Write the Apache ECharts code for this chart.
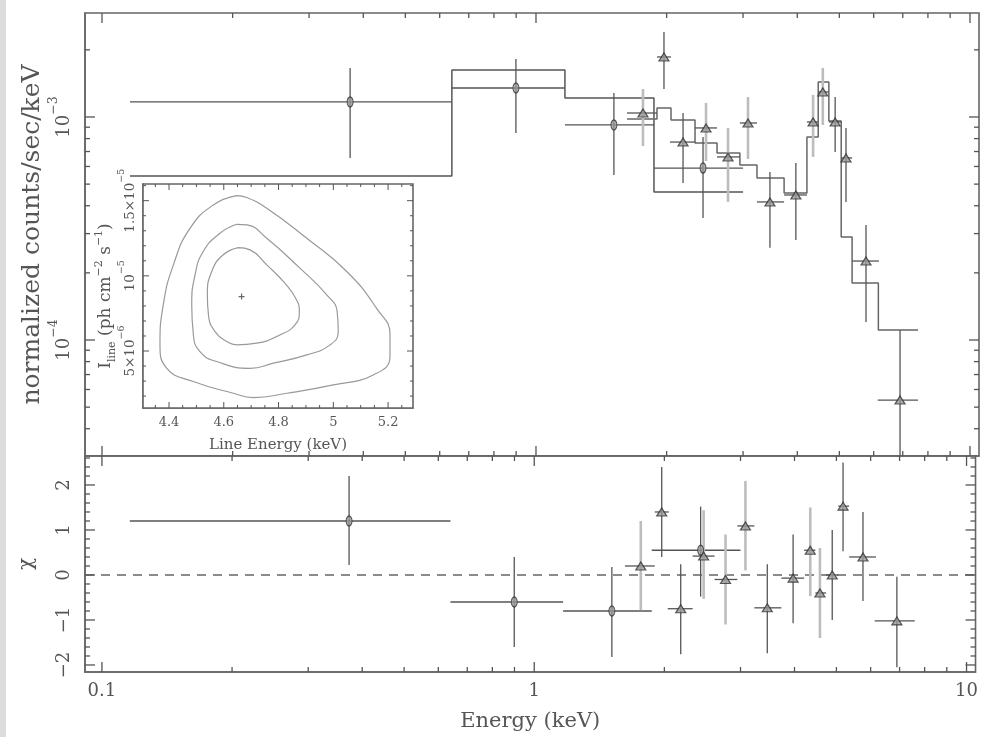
<!DOCTYPE html>
<html><head><meta charset="utf-8">
<script src="https://cdn.jsdelivr.net/npm/echarts@6/dist/echarts.min.js"></script>
<style>html,body{margin:0;padding:0;background:#fff}#c{width:981px;height:737px}</style>
</head><body><div id="c"></div>
<script>
// ---------------- DATA ----------------
// data group 1 (circles)
const circE      = [0.373, 0.899, 1.512, 2.426];
const circELo    = [0.116, 0.640, 1.166, 1.870];
const circEHi    = [0.640, 1.166, 1.870, 3.000];
const circFlux   = [1.168e-3, 1.349e-3, 9.21e-4, 5.90e-4];
const circFluxLo = [6.55e-4, 8.48e-4, 5.49e-4, 3.52e-4];
const circFluxHi = [1.66e-3, 1.82e-3, 1.281e-3, 8.13e-4];
const circChi    = [1.20, -0.60, -0.80, 0.55];
const circChiLo  = [0.22, -1.60, -1.82, -0.48];
const circChiHi  = [2.20, 0.40, 0.18, 1.52];
// model for group 1 (step bins)
const model1Edges = [0.116, 0.640, 1.166, 1.870, 3.000];
const model1Flux  = [5.44e-4, 1.625e-3, 1.217e-3, 4.61e-4];

// data groups 2/3 (triangles)
const triGroup   = [3, 2, 2, 3, 3, 3, 2, 2, 3, 3, 2, 2, 2, 2];
const triE       = [1.764, 1.972, 2.182, 2.465, 2.77, 3.08, 3.46, 3.97, 4.35, 4.58, 4.89, 5.18, 5.76, 6.90];
const triELo     = [1.621, 1.900, 2.036, 2.325, 2.613, 2.95, 3.23, 3.73, 4.21, 4.47, 4.73, 5.05, 5.35, 6.13];
const triEHi     = [1.900, 2.047, 2.325, 2.613, 2.95, 3.23, 3.73, 4.21, 4.47, 4.73, 5.05, 5.35, 6.17, 7.59];
const triFlux    = [1.042e-3, 1.858e-3, 7.72e-4, 8.93e-4, 6.62e-4, 9.40e-4, 4.16e-4, 4.47e-4, 9.50e-4, 1.295e-3, 9.50e-4, 6.55e-4, 2.26e-4, 5.38e-5];
const triFluxLo  = [7.41e-4, 1.335e-3, 5.06e-4, 6.35e-4, 4.16e-4, 6.48e-4, 2.59e-4, 2.81e-4, 6.62e-4, 9.21e-4, 6.97e-4, 4.16e-4, 1.205e-4, 1.0e-5];
const triFluxHi  = [1.335e-3, 2.405e-3, 1.042e-3, 1.156e-3, 8.93e-4, 1.229e-3, 5.67e-4, 6.22e-4, 1.255e-3, 1.66e-3, 1.229e-3, 8.93e-4, 3.28e-4, 1.109e-4];
const triChi     = [0.20, 1.40, -0.75, 0.42, -0.10, 1.09, -0.73, -0.07, 0.55, -0.40, 0.00, 1.53, 0.40, -1.02];
const triChiLo   = [-0.78, 0.40, -1.76, -0.53, -1.10, 0.10, -1.74, -1.07, -0.47, -1.40, -1.00, 0.53, -0.58, -2.05];
const triChiHi   = [1.20, 2.40, 0.24, 1.44, 0.90, 2.09, 0.24, 0.90, 1.50, 0.60, 1.00, 2.50, 1.40, -0.04];
// model for triangles (step bins)
const model2Edges = [1.621, 1.900, 2.047, 2.325, 2.613, 2.95, 3.23, 3.73, 4.21, 4.47, 4.73, 5.05, 5.35, 6.15, 7.59];
const model2Flux  = [9.80e-4, 1.098e-3, 9.69e-4, 7.64e-4, 6.90e-4, 6.09e-4, 5.33e-4, 4.56e-4, 8.13e-4, 1.435e-3, 9.60e-4, 2.90e-4, 1.80e-4, 1.109e-4];

// inset: confidence contours [line energy keV, line flux]
const contourInner = [[4.653,11.88e-6],[4.598,11.40e-6],[4.556,10.29e-6],[4.540,8.74e-6],[4.544,7.41e-6],[4.568,6.29e-6],[4.611,5.63e-6],[4.647,5.41e-6],[4.720,5.52e-6],[4.805,6.07e-6],[4.860,6.74e-6],[4.876,7.62e-6],[4.866,8.40e-6],[4.823,9.51e-6],[4.757,10.73e-6],[4.696,11.73e-6]];
const contourMiddle = [[4.647,13.43e-6],[4.586,12.83e-6],[4.525,11.62e-6],[4.495,10.07e-6],[4.483,8.07e-6],[4.489,6.07e-6],[4.513,4.96e-6],[4.574,4.30e-6],[4.696,3.85e-6],[4.781,4.19e-6],[4.903,4.74e-6],[4.988,5.41e-6],[5.018,6.29e-6],[5.014,7.62e-6],[4.976,8.74e-6],[4.878,10.51e-6],[4.757,12.50e-6],[4.684,13.39e-6]];
const contourOuter = [[4.647,15.34e-6],[4.562,14.72e-6],[4.477,13.17e-6],[4.416,10.73e-6],[4.379,8.07e-6],[4.367,5.41e-6],[4.392,3.85e-6],[4.489,2.97e-6],[4.635,2.19e-6],[4.708,1.90e-6],[4.830,2.19e-6],[5.000,2.75e-6],[5.146,3.41e-6],[5.207,4.63e-6],[5.207,6.07e-6],[5.158,7.84e-6],[5.049,10.29e-6],[4.903,12.50e-6],[4.757,14.50e-6],[4.684,15.21e-6]];
const bestFit = [4.665, 8.62e-6];

// axis ranges and tick labels
const XMIN = 0.09138, XMAX = 10.49;
const YMIN = 3.019e-5, YMAX = 2.926e-3;
const CHIMIN = -2.156, CHIMAX = 2.644;
const IXMIN = 4.305, IXMAX = 5.291;
const IYMIN = 1.21e-6, IYMAX = 1.611e-5;
const xMajor = [0.1, 1, 10];
const yMajor = [1e-4, 1e-3];
const chiMajor = [-2, -1, 0, 1, 2];
const ixMajor = [4.4, 4.6, 4.8, 5.0, 5.2];
const iyMajor = [5e-6, 1e-5, 1.5e-5];

// ---------------- STYLE ----------------
const FONT = 'DejaVu Serif';
const INK = '#555';
const TXT = '#555';
const GRAYBAR = '#bdbdbd';

// ---------------- HELPERS ----------------
function inRange(v, a, b) { return v >= a - 1e-12 && v <= b + 1e-12; }
function logMinor(lo, hi) { const out = []; for (let d = -6; d <= 2; d++) { for (let k = 2; k <= 9; k++) { const v = k * Math.pow(10, d); if (inRange(v, lo, hi)) out.push(v); } } return out; }
function linMinor(lo, hi, step, majors) { const out = []; const n0 = Math.ceil(lo / step - 1e-9), n1 = Math.floor(hi / step + 1e-9); for (let n = n0; n <= n1; n++) { const v = n * step; if (!majors.some(m => Math.abs(m - v) < step * 1e-3)) out.push(v); } return out; }

function tickSeries(gi, xMaj, xMin, yMaj, yMin, refX, refY, Lmaj, Lmin, width) {
  const data = [];
  xMaj.forEach(v => data.push([v, refY, 0, 1]));
  xMin.forEach(v => data.push([v, refY, 0, 0]));
  yMaj.forEach(v => data.push([refX, v, 1, 1]));
  yMin.forEach(v => data.push([refX, v, 1, 0]));
  return {
    type: 'custom', xAxisIndex: gi, yAxisIndex: gi, silent: true, z: 6, data,
    renderItem(params, api) {
      const cs = params.coordSys;
      const p = api.coord([api.value(0), api.value(1)]);
      const L = api.value(3) ? Lmaj : Lmin;
      const st = { stroke: INK, lineWidth: width };
      if (api.value(2) === 0) {
        const x = p[0], yb = cs.y + cs.height, yt = cs.y;
        return { type: 'group', children: [
          { type: 'line', shape: { x1: x, y1: yb, x2: x, y2: yb - L }, style: st },
          { type: 'line', shape: { x1: x, y1: yt, x2: x, y2: yt + L }, style: st }] };
      } else {
        const y = p[1], xl = cs.x, xr = cs.x + cs.width;
        return { type: 'group', children: [
          { type: 'line', shape: { x1: xl, y1: y, x2: xl + L, y2: y }, style: st },
          { type: 'line', shape: { x1: xr, y1: y, x2: xr - L, y2: y }, style: st }] };
      }
    }
  };
}

function errSeries(gi, items, hColor, hWidth, vColor, vWidth, z) {
  return {
    type: 'custom', xAxisIndex: gi, yAxisIndex: gi, silent: true, clip: true, z: z || 3, data: items,
    renderItem(params, api) {
      const p = api.coord([api.value(0), api.value(1)]);
      const xl = api.coord([api.value(2), api.value(1)])[0];
      const xh = api.coord([api.value(3), api.value(1)])[0];
      const yl = api.coord([api.value(0), api.value(4)])[1];
      const yh = api.coord([api.value(0), api.value(5)])[1];
      return { type: 'group', children: [
        { type: 'line', shape: { x1: p[0], y1: yl, x2: p[0], y2: yh }, style: { stroke: vColor, lineWidth: vWidth } },
        { type: 'line', shape: { x1: xl, y1: p[1], x2: xh, y2: p[1] }, style: { stroke: hColor, lineWidth: hWidth } }] };
    }
  };
}

function stepData(edges, vals) { const out = []; vals.forEach((v, i) => { out.push([edges[i], v]); out.push([edges[i + 1], v]); }); return out; }
function closed(arr) { return arr.concat([arr[0]]); }

// items
const circTop = circE.map((e, i) => [e, circFlux[i], circELo[i], circEHi[i], circFluxLo[i], circFluxHi[i]]);
const circBot = circE.map((e, i) => [e, circChi[i], circELo[i], circEHi[i], circChiLo[i], circChiHi[i]]);
const triTop = triE.map((e, i) => [e, triFlux[i], triELo[i], triEHi[i], triFluxLo[i], triFluxHi[i]]);
const triBot = triE.map((e, i) => [e, triChi[i], triELo[i], triEHi[i], triChiLo[i], triChiHi[i]]);
const pick = (arr, g) => arr.filter((_, i) => triGroup[i] === g);

// formatters
const supMinus = n => (n < 0 ? '\u2212' : '') + Math.abs(n);
function logLabel10(v) { const l = Math.log10(v), e = Math.round(l); if (Math.abs(l - e) > 1e-6) return ''; return '{b|10}{s|' + supMinus(e) + '}'; }
function logLabelDec(v) { const l = Math.log10(v), e = Math.round(l); if (Math.abs(l - e) > 1e-6) return ''; return e >= 0 ? String(Math.pow(10, e)) : Math.pow(10, e).toFixed(-e); }
function intLabel(v) { const r = Math.round(v); if (Math.abs(v - r) > 1e-6) return ''; return r < 0 ? '\u2212' + (-r) : String(r); }
function stepLabel(v) { const r = Math.round(v * 5) / 5; if (Math.abs(v - r) > 1e-6) return ''; return String(+r.toFixed(1)); }
function sciLabel(v) { if (v <= 0) return ''; const e = Math.floor(Math.log10(v) + 1e-9); const m = Math.round(v / Math.pow(10, e) * 100) / 100; const ok = iyMajor.some(t => Math.abs(t - v) < 1e-9); if (!ok) return ''; return (m === 1 ? '' : '{b|' + m + '\u00d7}') + '{b|10}{s|' + supMinus(e) + '}'; }

const richMain = { b: { fontFamily: FONT, fontSize: 18, color: TXT, lineHeight: 26, verticalAlign: 'bottom' }, s: { fontFamily: FONT, fontSize: 12.5, color: TXT, lineHeight: 14, verticalAlign: 'top' } };
const richInset = { b: { fontFamily: FONT, fontSize: 13.5, color: TXT, lineHeight: 20, verticalAlign: 'bottom' }, s: { fontFamily: FONT, fontSize: 9.5, color: TXT, lineHeight: 11, verticalAlign: 'top' } };

const axisLineStyle = { show: true, onZero: false, lineStyle: { color: '#666', width: 1.5 } };
const gridStyle = { show: true, borderColor: '#666', borderWidth: 1.6, backgroundColor: '#fff' };

const chart = echarts.init(document.getElementById('c'), null, { renderer: 'canvas' });
chart.setOption({
  backgroundColor: '#fff',
  animation: false,
  graphic: [{ type: 'rect', left: 0, top: 0, shape: { width: 6, height: 737 }, style: { fill: '#dcdcdc' }, silent: true }],
  grid: [
    Object.assign({ left: 85, top: 13, right: 2, height: 443 }, gridStyle),
    Object.assign({ left: 85, top: 456, right: 2, height: 216 }, gridStyle),
    Object.assign({ left: 143, top: 184, width: 270, height: 224, z: 4 }, gridStyle)
  ],
  xAxis: [
    { gridIndex: 0, type: 'log', logBase: 10, min: XMIN, max: XMAX, axisLine: axisLineStyle, axisTick: { show: false }, axisLabel: { show: false }, splitLine: { show: false } },
    { gridIndex: 1, type: 'log', logBase: 10, min: XMIN, max: XMAX, axisLine: axisLineStyle, axisTick: { show: false }, splitLine: { show: false },
      axisLabel: { formatter: logLabelDec, fontFamily: FONT, fontSize: 18, color: TXT, margin: 10 },
      name: 'Energy (keV)', nameLocation: 'middle', nameGap: 39, nameMoveOverlap: false, nameTextStyle: { fontFamily: FONT, fontSize: 21, color: TXT } },
    { gridIndex: 2, type: 'value', min: IXMIN, max: IXMAX, splitNumber: 5, axisLine: axisLineStyle, axisTick: { show: false }, splitLine: { show: false },
      axisLabel: { formatter: stepLabel, fontFamily: FONT, fontSize: 13, color: TXT, margin: 8 },
      name: 'Line Energy (keV)', nameLocation: 'middle', nameGap: 30, nameMoveOverlap: false, nameTextStyle: { fontFamily: FONT, fontSize: 15, color: TXT } }
  ],
  yAxis: [
    { gridIndex: 0, type: 'log', logBase: 10, min: YMIN, max: YMAX, axisLine: axisLineStyle, axisTick: { show: false }, splitLine: { show: false },
      axisLabel: { formatter: logLabel10, rotate: 90, margin: 12, rich: richMain },
      name: 'normalized counts/sec/keV', nameLocation: 'middle', nameRotate: 90, nameGap: 40, nameMoveOverlap: false, nameTextStyle: { fontFamily: FONT, fontSize: 25, color: TXT } },
    { gridIndex: 1, type: 'value', min: CHIMIN, max: CHIMAX, splitNumber: 5, axisLine: axisLineStyle, axisTick: { show: false }, splitLine: { show: false },
      axisLabel: { formatter: intLabel, rotate: 90, margin: 12, fontFamily: FONT, fontSize: 18, color: TXT },
      name: '\u03c7', nameLocation: 'middle', nameRotate: 90, nameGap: 48, nameMoveOverlap: false, nameTextStyle: { fontFamily: FONT, fontSize: 20, color: TXT } },
    { gridIndex: 2, type: 'value', min: IYMIN, max: IYMAX, splitNumber: 3, axisLine: axisLineStyle, axisTick: { show: false }, splitLine: { show: false },
      axisLabel: { formatter: sciLabel, rotate: 90, margin: 6, rich: richInset },
      name: '{t|I}{d|line}{t| (ph cm}{u|\u22122}{t| s}{u|\u22121}{t|)}', nameLocation: 'middle', nameRotate: 90, nameGap: 25, nameMoveOverlap: false,
      nameTextStyle: { rich: { t: { fontFamily: FONT, fontSize: 17, color: TXT, lineHeight: 24, verticalAlign: 'middle' }, d: { fontFamily: FONT, fontSize: 11, color: TXT, lineHeight: 13, verticalAlign: 'bottom' }, u: { fontFamily: FONT, fontSize: 11, color: TXT, lineHeight: 13, verticalAlign: 'top' } } } }
  ],
  series: [
    // ticks
    tickSeries(0, xMajor, logMinor(XMIN, XMAX), yMajor, logMinor(YMIN, YMAX), XMIN, YMIN, 10, 5, 1.3),
    tickSeries(1, xMajor, logMinor(XMIN, XMAX), chiMajor, linMinor(CHIMIN, CHIMAX, 0.2, chiMajor), XMIN, CHIMIN, 10, 5, 1.3),
    Object.assign(tickSeries(2, ixMajor, linMinor(IXMIN, IXMAX, 0.05, ixMajor), iyMajor, linMinor(IYMIN, IYMAX, 1e-6, iyMajor), IXMIN, IYMIN, 6, 3, 1), { z: 12 }),
    // models
    { type: 'line', xAxisIndex: 0, yAxisIndex: 0, data: stepData(model1Edges, model1Flux), showSymbol: false, symbol: 'none', lineStyle: { color: INK, width: 1.5 }, silent: true, z: 2 },
    { type: 'line', xAxisIndex: 0, yAxisIndex: 0, data: stepData(model2Edges, model2Flux), showSymbol: false, symbol: 'none', lineStyle: { color: '#666', width: 1.5 }, silent: true, z: 2 },
    // error bars top
    errSeries(0, circTop, INK, 1.3, INK, 1.3),
    errSeries(0, pick(triTop, 2), INK, 1.3, INK, 1.3),
    errSeries(0, pick(triTop, 3), INK, 1.3, GRAYBAR, 2.6),
    // error bars bottom
    errSeries(1, circBot, INK, 1.3, INK, 1.3),
    errSeries(1, pick(triBot, 2), INK, 1.3, INK, 1.3),
    errSeries(1, pick(triBot, 3), INK, 1.3, GRAYBAR, 2.6),
    // markers
    { type: 'scatter', xAxisIndex: 0, yAxisIndex: 0, data: circTop.map(d => [d[0], d[1]]), symbol: 'circle', symbolSize: [6, 10], itemStyle: { color: '#999', borderColor: '#333', borderWidth: 1.2 }, silent: true, z: 5 },
    { type: 'scatter', xAxisIndex: 0, yAxisIndex: 0, data: triTop.map(d => [d[0], d[1]]), symbol: 'triangle', symbolSize: [10, 8], itemStyle: { color: '#999', borderColor: '#333', borderWidth: 1.2 }, silent: true, z: 5 },
    { type: 'scatter', xAxisIndex: 1, yAxisIndex: 1, data: circBot.map(d => [d[0], d[1]]), symbol: 'circle', symbolSize: [6, 10], itemStyle: { color: '#999', borderColor: '#333', borderWidth: 1.2 }, silent: true, z: 5 },
    { type: 'scatter', xAxisIndex: 1, yAxisIndex: 1, data: triBot.map(d => [d[0], d[1]]), symbol: 'triangle', symbolSize: [10, 8], itemStyle: { color: '#999', borderColor: '#333', borderWidth: 1.2 }, silent: true, z: 5 },
    // zero line
    { type: 'line', xAxisIndex: 1, yAxisIndex: 1, data: [[XMIN, 0], [XMAX, 0]], showSymbol: false, symbol: 'none', lineStyle: { color: '#666', width: 1.3, type: [9, 7] }, silent: true, z: 2 },
    // inset contours
    { type: 'line', xAxisIndex: 2, yAxisIndex: 2, data: closed(contourInner), smooth: 0.5, showSymbol: false, symbol: 'none', lineStyle: { color: '#999', width: 1.2 }, silent: true, z: 10 },
    { type: 'line', xAxisIndex: 2, yAxisIndex: 2, data: closed(contourMiddle), smooth: 0.5, showSymbol: false, symbol: 'none', lineStyle: { color: '#999', width: 1.2 }, silent: true, z: 10 },
    { type: 'line', xAxisIndex: 2, yAxisIndex: 2, data: closed(contourOuter), smooth: 0.5, showSymbol: false, symbol: 'none', lineStyle: { color: '#999', width: 1.2 }, silent: true, z: 10 },
    { type: 'scatter', xAxisIndex: 2, yAxisIndex: 2, data: [bestFit], symbol: 'path://M4,0h2v4h4v2h-4v4h-2v-4h-4v-2h4z', symbolSize: 6, itemStyle: { color: '#444' }, silent: true, z: 11 }
  ]
});
</script></body></html>
